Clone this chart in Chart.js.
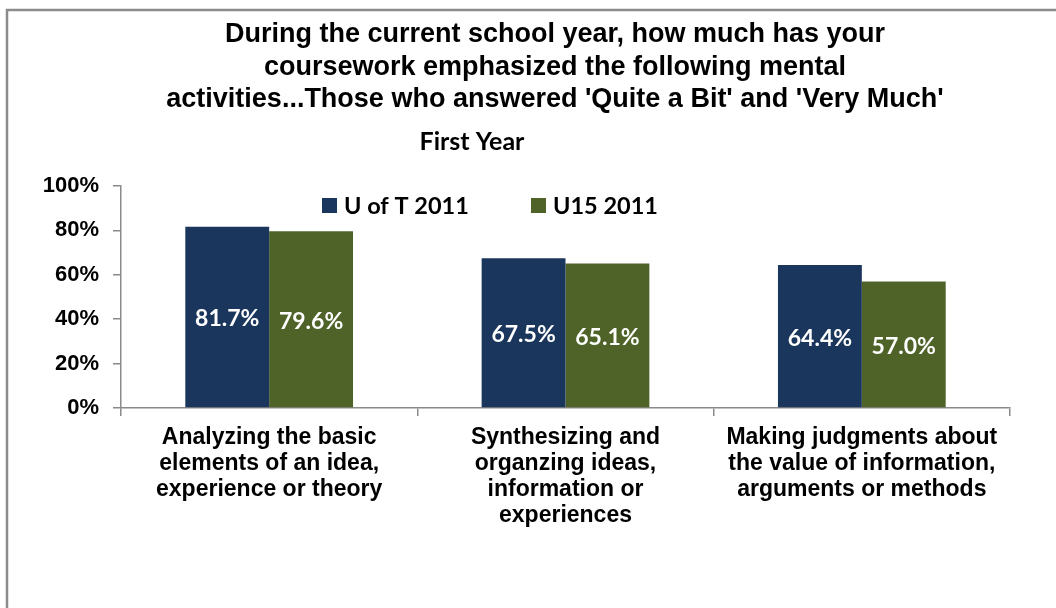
<!DOCTYPE html>
<html>
<head>
<meta charset="utf-8">
<script src="https://cdn.jsdelivr.net/npm/chart.js@4/dist/chart.umd.min.js"></script>
<style>
  html, body { margin: 0; padding: 0; background: #fff; }
  #wrap { width: 1056px; height: 608px; position: relative; }
</style>
</head>
<body>
<div id="wrap"><canvas id="c" width="1056" height="608"></canvas></div>
<script>
// Survey items (multi-line category labels)
const categories = [
  ['Analyzing the basic', 'elements of an idea,', 'experience or theory'],
  ['Synthesizing and', 'organzing ideas,', 'information or', 'experiences'],
  ['Making judgments about', 'the value of information,', 'arguments or methods']
];
// Share answering 'Quite a Bit' or 'Very Much' (%)
const uofT2011 = [81.7, 67.5, 64.4];
const u15_2011 = [79.6, 65.1, 57.0];
const seriesNames = ['U of T 2011', 'U15 2011'];
const yTicks = [0, 20, 40, 60, 80, 100];
const titleLines = [
  'During the current school year, how much has your',
  'coursework emphasized the following mental',
  "activities...Those who answered 'Quite a Bit' and 'Very Much'"
];
const subtitleText = 'First Year';

const BLUE = '#1b365d';
const GREEN = '#4f6228';
const AXIS = '#8a8a8a';
const HEAD_FONT = 'Liberation Sans, Arial, sans-serif';
const BODY_FONT = 'Lato, "Open Sans", sans-serif';

// White page with grey frame on the left and top edges
const framePlugin = {
  id: 'frame',
  beforeDraw(chart) {
    const ctx = chart.ctx;
    ctx.save();
    ctx.fillStyle = '#fff';
    ctx.fillRect(0, 0, chart.width, chart.height);
    ctx.strokeStyle = '#8c8c8c';
    ctx.lineWidth = 2.5;
    ctx.beginPath();
    ctx.moveTo(7, chart.height);
    ctx.lineTo(7, 10);
    ctx.lineTo(chart.width, 10);
    ctx.stroke();
    ctx.restore();
  }
};

// Title block and "First Year" caption
const headingPlugin = {
  id: 'heading',
  afterDraw(chart) {
    const ctx = chart.ctx;
    ctx.save();
    ctx.fillStyle = '#000';
    ctx.textAlign = 'center';
    ctx.textBaseline = 'alphabetic';
    ctx.font = 'bold 27px ' + HEAD_FONT;
    const baselines = [42, 74.5, 107];
    titleLines.forEach((t, i) => ctx.fillText(t, 555, baselines[i]));
    ctx.font = 'bold 25px ' + BODY_FONT;
    ctx.fillText(subtitleText, 472, 150);
    ctx.restore();
  }
};

// Legend sitting inside the top of the plot area
const legendPlugin = {
  id: 'innerLegend',
  afterDraw(chart) {
    const ctx = chart.ctx;
    const xs = [322, 531];
    ctx.save();
    ctx.font = 'bold 23.5px ' + BODY_FONT;
    ctx.textAlign = 'left';
    ctx.textBaseline = 'middle';
    chart.data.datasets.forEach((ds, i) => {
      ctx.fillStyle = ds.backgroundColor;
      ctx.fillRect(xs[i], 198, 15, 15);
      ctx.fillStyle = '#000';
      ctx.fillText(ds.label, xs[i] + 22, 206);
    });
    ctx.restore();
  }
};

// White value labels centred inside each bar
const valueLabelPlugin = {
  id: 'valueLabels',
  afterDatasetsDraw(chart) {
    const ctx = chart.ctx;
    ctx.save();
    ctx.font = 'bold 23px ' + BODY_FONT;
    ctx.fillStyle = '#fff';
    ctx.textAlign = 'center';
    ctx.textBaseline = 'middle';
    chart.data.datasets.forEach((ds, di) => {
      chart.getDatasetMeta(di).data.forEach((bar, i) => {
        const v = ds.data[i];
        ctx.fillText(v.toFixed(1) + '%', bar.x, (bar.y + bar.base) / 2 + 2);
      });
    });
    ctx.restore();
  }
};

new Chart(document.getElementById('c'), {
  type: 'bar',
  data: {
    labels: categories,
    datasets: [
      { label: seriesNames[0], data: uofT2011, backgroundColor: BLUE },
      { label: seriesNames[1], data: u15_2011, backgroundColor: GREEN }
    ]
  },
  options: {
    responsive: false,
    animation: false,
    devicePixelRatio: 1,
    layout: { padding: { top: 186, right: 46, left: 0, bottom: 0 } },
    datasets: { bar: { barPercentage: 1, categoryPercentage: 0.566, borderWidth: 0 } },
    plugins: {
      legend: { display: false },
      title: { display: false },
      tooltip: { enabled: false }
    },
    scales: {
      x: {
        offset: true,
        afterFit(scale) { scale.height = 200; },
        grid: { offset: true, drawOnChartArea: false, tickLength: 8, color: AXIS, lineWidth: 1.5 },
        border: { color: AXIS, width: 1.5 },
        ticks: {
          color: '#000',
          autoSkip: false,
          maxRotation: 0,
          padding: 9,
          font: { family: HEAD_FONT, weight: 'bold', size: 23, lineHeight: 1.13 }
        }
      },
      y: {
        min: 0,
        max: 100,
        afterFit(scale) { scale.width = 121; },
        afterBuildTicks(scale) { scale.ticks = yTicks.map(v => ({ value: v })); },
        grid: { drawOnChartArea: false, tickLength: 8, color: AXIS, lineWidth: 1.5 },
        border: { color: AXIS, width: 1.5 },
        ticks: {
          color: '#000',
          padding: 14,
          callback: v => v + '%',
          font: { family: HEAD_FONT, weight: 'bold', size: 22 }
        }
      }
    }
  },
  plugins: [framePlugin, headingPlugin, legendPlugin, valueLabelPlugin]
});
</script>
</body>
</html>
